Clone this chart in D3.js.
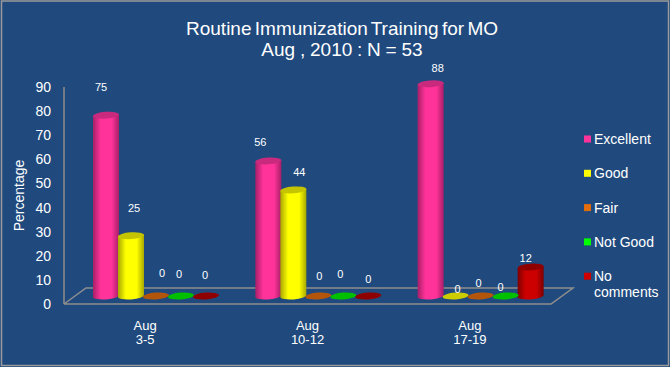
<!DOCTYPE html>
<html>
<head>
<meta charset="utf-8">
<script src="https://cdn.jsdelivr.net/npm/d3@7"></script>
<style>
  html, body { margin: 0; padding: 0; background: #204a7e; }
  svg { display: block; }
  text { font-family: "Liberation Sans", Arial, sans-serif; fill: #fff; }
  .axis .domain { stroke: #8f8f8f; stroke-width: 1.5; }
  .axis line { display: none; }
  .axis text { font-size: 14px; font-family: "Liberation Sans", Arial, sans-serif; }
  .floor { fill: none; stroke: #8f8f8f; stroke-width: 1.5; }
</style>
</head>
<body>
<svg width="670" height="367"></svg>
<script>
const categories = [['Aug', '3-5'], ['Aug', '10-12'], ['Aug', '17-19']]
const seriesNames = ['Excellent', 'Good', 'Fair', 'Not Good', 'No comments']
const excellent = [75, 56, 88]
const good = [25, 44, 0]
const fair = [0, 0, 0]
const notGood = [0, 0, 0]
const noComments = [0, 0, 12]
const yTicks = [0, 10, 20, 30, 40, 50, 60, 70, 80, 90]

const values = [excellent, good, fair, notGood, noComments]

// body colour, shaded edge, top cap, legend swatch
const bodyColors = ['#ff3399', '#ffff00', '#e36c0a', '#00ff00', '#cc0000']
const edgeColors = ['#a81f68', '#a8a800', '#96480a', '#00a000', '#7c0000']
const capColors = ['#c92a7e', '#c4c400', '#b3560b', '#00c000', '#8f0000']

// data labels were placed by hand in the original, so each one has its own nudge
const labelNudge = [
  [[-5, -28], [-8, -19], [7, -16]],
  [[3, -28], [6, -18], [2, -7]],
  [[6, -23], [1, -20], [-2, -13]],
  [[-2, -22], [-3, -22], [-5, -9]],
  [[-1, -21], [0, -17], [-5, -9]]
]

const depthX = 22
const depthY = 16
const rx = 13
const ry = 3.4
const tilt = 0.9

const svg = d3.select('svg')

const defs = svg.append('defs')
bodyColors.forEach((c, i) => {
  const g = defs.append('linearGradient').attr('id', 'cyl' + i)
  g.append('stop').attr('offset', '0%').attr('stop-color', edgeColors[i])
  g.append('stop').attr('offset', '30%').attr('stop-color', c)
  g.append('stop').attr('offset', '72%').attr('stop-color', c)
  g.append('stop').attr('offset', '100%').attr('stop-color', edgeColors[i])
})

// frame
svg.append('rect')
  .attr('x', 1.5)
  .attr('y', 1)
  .attr('width', 667)
  .attr('height', 364.5)
  .attr('fill', 'none')
  .attr('stroke', '#9a9a9a')
  .attr('stroke-width', 1.5)

const title = svg.append('text').attr('text-anchor', 'middle').attr('font-size', 19)
title.append('tspan').attr('x', 342).attr('y', 35).attr('word-spacing', -2).text('Routine Immunization Training for MO')
title.append('tspan').attr('x', 342).attr('y', 56).attr('word-spacing', -0.5).text('Aug , 2010 : N = 53')

const x0 = d3.scaleBand().domain(d3.range(categories.length)).range([64, 551])
const x1 = d3.scaleBand().domain(d3.range(seriesNames.length)).range([18.5, 143.5])
const y = d3.scaleLinear([0, 90], [304, 87])

// floor
const floorY = y(0)
svg.append('path')
  .attr('class', 'floor')
  .attr('d', `M${x0.range()[0]},${floorY}H${x0.range()[1]}L${x0.range()[1] + depthX},${floorY - depthY}H${x0.range()[0] + depthX}L${x0.range()[0]},${floorY}`)

svg.append('g')
  .attr('class', 'axis')
  .attr('transform', 'translate(64,0)')
  .call(d3.axisLeft(y).tickValues(yTicks).tickSize(0).tickPadding(13))
  .call(g => g.select('.domain').attr('d', `M0,${y(90)}V${y(0)}`))

svg.append('text')
  .attr('transform', `translate(24,${y(45)}) rotate(-90)`)
  .attr('text-anchor', 'middle')
  .attr('font-size', 14)
  .text('Percentage')

// x labels
categories.forEach((c, i) => {
  const t = svg.append('text').attr('text-anchor', 'middle').attr('font-size', 13)
  c.forEach((line, k) => {
    t.append('tspan')
      .attr('x', x0(i) + x0.bandwidth() / 2)
      .attr('y', 330 + k * 14)
      .text(line)
  })
})

// cylinders, left to right inside each group
const cylinders = svg.append('g').attr('transform', `translate(${depthX / 2},${-depthY / 2})`)
const marks = []
categories.forEach((c, i) => {
  seriesNames.forEach((s, j) => marks.push({i, j, v: values[j][i]}))
})

const cx = d => x0(d.i) + x1(d.j) + x1.bandwidth() / 2

cylinders.selectAll('path.body')
  .data(marks.filter(d => d.v > 0))
  .enter().append('path')
    .attr('class', 'body')
    .attr('fill', d => `url(#cyl${d.j})`)
    .attr('d', d => {
      const a = cx(d) - rx, b = cx(d) + rx
      return `M${a},${y(d.v) + tilt}L${a},${y(0) + tilt}A${rx},${ry} -4 0 0 ${b},${y(0) - tilt}L${b},${y(d.v) - tilt}Z`
    })

cylinders.selectAll('ellipse')
  .data(marks)
  .enter().append('ellipse')
    .attr('rx', rx)
    .attr('ry', ry)
    .attr('transform', d => `translate(${cx(d)},${y(d.v)}) rotate(-4)`)
    .attr('fill', d => d.v === 0 && d.j === 1 ? '#cccc00' : capColors[d.j])

// value labels
cylinders.selectAll('text')
  .data(marks)
  .enter().append('text')
    .attr('x', d => cx(d) + labelNudge[d.j][d.i][0])
    .attr('y', d => y(d.v) + labelNudge[d.j][d.i][1])
    .attr('dy', '0.35em')
    .attr('text-anchor', 'middle')
    .attr('font-size', 11)
    .text(d => d.v)

// legend
const legend = svg.append('g').attr('transform', 'translate(584,139)')
const row = legend.selectAll('g')
  .data(seriesNames)
  .enter().append('g')
    .attr('transform', (d, i) => `translate(0,${i * 34.3})`)
row.append('rect')
  .attr('y', -3.5)
  .attr('width', 7)
  .attr('height', 7)
  .attr('fill', (d, i) => bodyColors[i])
row.each(function(d) {
  const t = d3.select(this).append('text').attr('font-size', 14)
  d.replace('No ', 'No\n').split('\n').forEach((line, k) => {
    t.append('tspan').attr('x', 10).attr('y', 5 + k * 16).text(line)
  })
})
</script>
</body>
</html>
